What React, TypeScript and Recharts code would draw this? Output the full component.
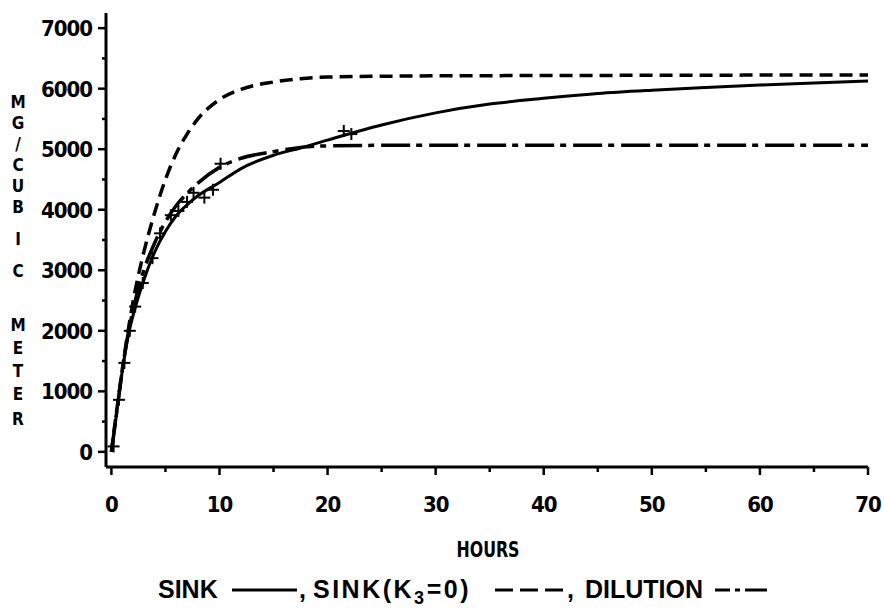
import { ComposedChart, Line, Scatter, XAxis, YAxis } from "recharts";

// hours after release
const hours = [0, 0.5, 1, 1.5, 2, 2.5, 3, 4, 5, 6, 7, 8, 10, 12, 15, 17.5, 20, 25, 30, 35, 40, 45, 50, 55, 60, 65, 70];
// model curves, MG/cubic meter
const sinkConc = [0, 660, 1330, 1870, 2250, 2560, 2840, 3300, 3640, 3900, 4080, 4230, 4450, 4680, 4900, 5020, 5150, 5400, 5600, 5745, 5840, 5920, 5975, 6020, 6060, 6095, 6127];
const sinkK3Zero = [0, 700, 1350, 1950, 2480, 2920, 3300, 3950, 4500, 4930, 5250, 5500, 5820, 5990, 6110, 6165, 6192, 6205, 6212, 6215, 6217, 6219, 6221, 6223, 6224, 6225, 6226];
const dilutionConc = [0, 670, 1340, 1900, 2340, 2700, 3000, 3450, 3800, 4070, 4270, 4440, 4700, 4850, 4960, 5030, 5055, 5064, 5066, 5066, 5066, 5066, 5066, 5066, 5066, 5066, 5066];

// measured points (+ marks)
const obsHours = [0.2, 0.7, 1.2, 1.7, 2.2, 2.9, 3.8, 4.5, 5.5, 6.2, 7.0, 7.6, 8.6, 9.4, 10.1, 21.5, 22.2];
const obsConc = [90, 860, 1470, 2000, 2400, 2790, 3200, 3610, 3910, 3980, 4130, 4280, 4200, 4330, 4760, 5300, 5250];

const yTicks = [0, 500, 1000, 1500, 2000, 2500, 3000, 3500, 4000, 4500, 5000, 5500, 6000, 6500, 7000];
const xTicks = [0, 5, 10, 15, 20, 25, 30, 35, 40, 45, 50, 55, 60, 65, 70];

const yLetters = ["M", "G", "/", "C", "U", "B", "I", "C", "M", "E", "T", "E", "R"];

const rows = hours.map((h, i) => ({
  hours: h,
  sink: sinkConc[i],
  sinkK3: sinkK3Zero[i],
  dilution: dilutionConc[i],
}));
const observed = obsHours.map((h, i) => ({ hours: h, conc: obsConc[i] }));

const tickFont = '"DejaVu Sans Condensed", "DejaVu Sans", sans-serif';
const legendFont = '"Liberation Sans", Arial, sans-serif';

function YTick(props: any) {
  const { x, y, payload } = props;
  const major = payload.value % 1000 === 0;
  return (
    <g>
      <line x1={x} x2={x - (major ? 8 : 4)} y1={y} y2={y} stroke="#000" strokeWidth={2.5} />
      {major && (
        <text x={x - 14} y={y + 8} textAnchor="end" fontFamily={tickFont} fontWeight="bold" fontSize={22} letterSpacing={-1} fill="#000">
          {payload.value}
        </text>
      )}
    </g>
  );
}

function XTick(props: any) {
  const { x, y, payload } = props;
  const major = payload.value % 10 === 0;
  return (
    <g>
      <line x1={x} x2={x} y1={y} y2={y + (major ? 8 : 5)} stroke="#000" strokeWidth={2.5} />
      {major && (
        <text x={x} y={y + 45} textAnchor="middle" fontFamily={tickFont} fontWeight="bold" fontSize={22} letterSpacing={-1} fill="#000">
          {payload.value}
        </text>
      )}
    </g>
  );
}

function Plus(props: any) {
  const { cx, cy } = props;
  return (
    <g stroke="#000" strokeWidth={2}>
      <line x1={cx - 6} x2={cx + 6} y1={cy} y2={cy} />
      <line x1={cx} x2={cx} y1={cy - 6} y2={cy + 6} />
    </g>
  );
}

export default function App() {
  const letterY = [101, 122, 143, 164, 185, 206, 238, 270, 324, 347, 370, 393, 418];
  return (
    <div style={{ position: "absolute", left: 0, top: 0, width: 884, height: 611, background: "#fff" }}>
      <ComposedChart width={884} height={611} data={rows} margin={{ top: 13, right: 16, bottom: 0, left: 0 }}>
        <XAxis
          dataKey="hours"
          type="number"
          domain={[-0.5, 70]}
          ticks={xTicks}
          height={144}
          tickSize={0}
          tickMargin={0}
          tickLine={false}
          axisLine={{ stroke: "#000", strokeWidth: 3 }}
          tick={<XTick />}
        />
        <YAxis
          type="number"
          domain={[-250, 7250]}
          ticks={yTicks}
          width={106}
          tickSize={0}
          tickMargin={0}
          tickLine={false}
          axisLine={{ stroke: "#000", strokeWidth: 3 }}
          tick={<YTick />}
        />
        <Line type="monotone" dataKey="sinkK3" stroke="#000" strokeWidth={3.5} strokeDasharray="13 7" dot={false} isAnimationActive={false} />
        <Line type="monotone" dataKey="dilution" stroke="#000" strokeWidth={3.5} strokeDasharray="29 6 6 7" dot={false} isAnimationActive={false} />
        <Line type="monotone" dataKey="sink" stroke="#000" strokeWidth={3} dot={false} isAnimationActive={false} />
        <Scatter data={observed} dataKey="conc" shape={<Plus />} isAnimationActive={false} />
      </ComposedChart>
      <svg width={884} height={611} style={{ position: "absolute", left: 0, top: 0, pointerEvents: "none" }}>
        {yLetters.map((ch, i) => (
          <text key={i} x={18} y={letterY[i] + 7} textAnchor="middle" fontFamily={tickFont} fontWeight="bold" fontSize={17} fill="#000">
            {ch}
          </text>
        ))}
        <text x={488} y={557} textAnchor="middle" fontFamily={tickFont} fontWeight="bold" fontSize={22} textLength={63} lengthAdjust="spacingAndGlyphs" fill="#000">
          HOURS
        </text>
        <g fontFamily={legendFont} fontWeight="bold" fontSize={25} fill="#000">
          <text x={158} y={598}>SINK</text>
          <line x1={232} x2={297} y1={590} y2={590} stroke="#000" strokeWidth={3} />
          <text x={299} y={598}>,</text>
          <text x={313} y={598} letterSpacing={2.5}>
            SINK(K<tspan dy={6} fontSize={18}>3</tspan>
            <tspan dy={-6}>=0)</tspan>
          </text>
          <line x1={495} x2={563} y1={590} y2={590} stroke="#000" strokeWidth={3} strokeDasharray="18 7" />
          <text x={567} y={598}>,</text>
          <text x={585} y={598}>DILUTION</text>
          <line x1={715} x2={767} y1={590} y2={590} stroke="#000" strokeWidth={3} strokeDasharray="15 5 5 5 25" />
        </g>
      </svg>
    </div>
  );
}
